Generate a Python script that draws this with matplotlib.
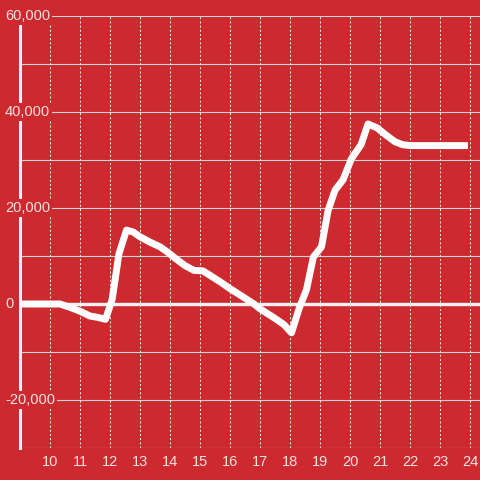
import matplotlib
matplotlib.use("Agg")
import matplotlib.pyplot as plt
import matplotlib.transforms as mtransforms

# hours of the day vs. running value
hours = [9.0, 10.33, 10.67, 11.0, 11.33, 11.6, 11.85, 12.07, 12.3, 12.55, 12.77,
         13.0, 13.33, 13.67, 13.9, 14.2, 14.5, 14.8, 15.1, 15.4, 15.7, 16.0,
         16.33, 16.6, 16.8, 17.0, 17.2, 17.5, 17.8, 18.05, 18.3, 18.55, 18.78,
         19.05, 19.27, 19.5, 19.77, 20.05, 20.37, 20.6, 20.9, 21.2, 21.5, 21.75,
         22.0, 23.93]
values = [0, 0, -700, -1500, -2500, -2800, -3200, 900, 10500, 15400, 15000,
          14000, 12900, 11900, 10900, 9400, 8000, 7000, 6900, 5700, 4500, 3200,
          1900, 800, 0, -1000, -1800, -3000, -4300, -6000, -1000, 3000, 9800,
          11900, 19500, 23700, 25900, 30300, 33200, 37500, 36700, 35200, 33800,
          33200, 33000, 33000]

x_ticks = list(range(10, 25))
y_grid = list(range(-30000, 60001, 10000))
y_labels = [-20000, 0, 20000, 40000, 60000]

bg = "#cc2a2f"
txt = "#f4e2e2"

plt.rcParams["font.family"] = ["Liberation Sans", "DejaVu Sans"]

fig = plt.figure(figsize=(4.8, 4.8), dpi=100, facecolor=bg)
ax = fig.add_axes([20 / 480, 32 / 480, 460 / 480, 432 / 480], facecolor=bg)

ax.set_xlim(9, 9 + 460 / 30)
ax.set_ylim(-30000, 60000)

# grid
for v in y_grid:
    ax.axhline(v, color="#d4d4d4", lw=0.8, zorder=1)
for h in x_ticks:
    ax.axvline(h, color="#e6e6e6", lw=0.75, ls=(0, (2, 2)), zorder=1)
ax.axhline(0, color="#f7f2f2", lw=2.4, zorder=2)

# the line
ax.plot(hours, values, color="white", lw=5, solid_joinstyle="round",
        solid_capstyle="butt", zorder=3)

for s in ["top", "right", "bottom"]:
    ax.spines[s].set_visible(False)
ax.spines["left"].set_color("#f2f2f2")
ax.spines["left"].set_linewidth(2.2)

ax.set_xticks(x_ticks)
ax.set_xticklabels([str(h) for h in x_ticks])
ax.set_yticks([])
ax.tick_params(axis="x", length=0, pad=5, labelsize=10.5, labelcolor=txt)

trans = mtransforms.blended_transform_factory(fig.transFigure, ax.transData)
for v in y_labels:
    fig.text(5 / 480, v, f"{v:,}", transform=trans,
             ha="left", va="center", fontsize=10.5, color=txt, zorder=10,
             bbox=dict(facecolor=bg, edgecolor="none", pad=1.5))

fig.savefig("out.png", dpi=100, facecolor=bg)
